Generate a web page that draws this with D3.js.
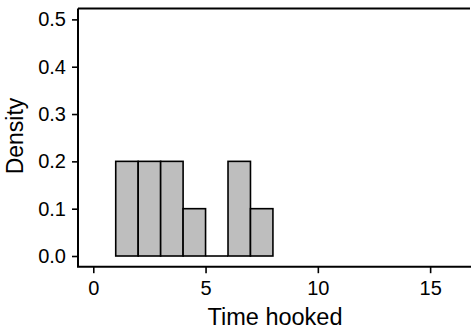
<!DOCTYPE html>
<html><head><meta charset="utf-8">
<script src="https://cdn.jsdelivr.net/npm/d3@7"></script>
<style>body{margin:0;background:#fff}svg{display:block}text{font-family:"Liberation Sans",Arial,sans-serif;fill:#000}</style>
</head><body>
<svg id="c" width="471" height="330"></svg>
<script>
const binStarts = [1, 2, 3, 4, 5, 6, 7];
const binWidth = 1;
const densities = [0.2, 0.2, 0.2, 0.1, 0, 0.2, 0.1];
const xTicks = [0, 5, 10, 15];
const yTicks = [0, 0.1, 0.2, 0.3, 0.4, 0.5];
const xLabel = "Time hooked";
const yLabel = "Density";

(function(){
const svg = d3.select("#c");
const pL = 78, pR = 471, pT = 8.5, pB = 266.7;
const x = d3.scaleLinear().domain([-0.68, 16.82]).range([pL, pR]);
const y = d3.scaleLinear().domain([-0.0226, 0.523]).range([pB, pT]);
const bins = binStarts.map((s,i)=>({s, d:densities[i]}));

svg.append("g").selectAll("rect").data(bins.filter(b=>b.d>0))
  .join("rect")
  .attr("x", d=>x(d.s)).attr("width", d=>x(d.s+binWidth)-x(d.s))
  .attr("y", d=>y(d.d)).attr("height", d=>y(0)-y(d.d))
  .attr("fill", "#bebebe").attr("stroke", "#000").attr("stroke-width", 1.6);
svg.append("g").selectAll("line").data(bins.filter(b=>b.d===0))
  .join("line")
  .attr("x1", d=>x(d.s)).attr("x2", d=>x(d.s+binWidth))
  .attr("y1", y(0)).attr("y2", y(0)).attr("stroke", "#000").attr("stroke-width", 1.6);

svg.append("line").attr("x1", pL).attr("x2", 470).attr("y1", pT).attr("y2", pT)
  .attr("stroke", "#000").attr("stroke-width", 2);

const ya = svg.append("g").attr("transform", `translate(${pL},0)`)
  .call(d3.axisLeft(y).tickValues(yTicks).tickFormat(d3.format(".1f")).tickSize(6).tickPadding(6).tickSizeOuter(0));
ya.select(".domain").attr("d", `M0,${pT}V${pB}`).attr("stroke-width", 2);
ya.selectAll(".tick line").attr("stroke-width", 1.6);
ya.selectAll(".tick text").attr("font-size", 20).attr("font-family", null);

const xa = svg.append("g").attr("transform", `translate(0,${pB})`)
  .call(d3.axisBottom(x).tickValues(xTicks).tickFormat(d3.format("d")).tickSize(6.5).tickPadding(8).tickSizeOuter(0));
xa.select(".domain").attr("d", `M${pL-1},0H${pR}`).attr("stroke-width", 2);
xa.selectAll(".tick line").attr("stroke-width", 1.6);
xa.selectAll(".tick text").attr("font-size", 20).attr("font-family", null);

svg.append("text").attr("x", 275).attr("y", 325).attr("text-anchor", "middle")
  .attr("font-size", 23.5).text(xLabel);
svg.append("text").attr("transform", "translate(23,136) rotate(-90)").attr("text-anchor", "middle")
  .attr("font-size", 23).text(yLabel);
})();
</script>
</body></html>
